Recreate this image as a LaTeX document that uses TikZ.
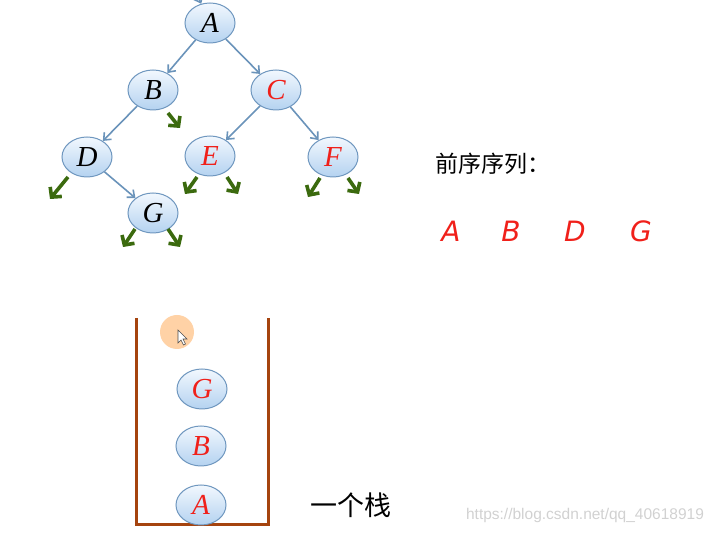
\documentclass[tikz,border=0pt]{standalone}
\usepackage{fontspec}
\setmainfont{Liberation Serif}
\newfontfamily\cjk{Noto Sans CJK SC}
\newfontfamily\seqfont{DejaVu Sans}
\newfontfamily\markfont{Liberation Sans}
\usetikzlibrary{shapes.geometric,arrows.meta,calc}
\definecolor{edgeblue}{HTML}{6A93BA}
\definecolor{ringblue}{HTML}{6F97BF}
\definecolor{balltop}{HTML}{F2F8FE}
\definecolor{ballbottom}{HTML}{B4D2F0}
\definecolor{nilgreen}{HTML}{3B6A0E}
\definecolor{stackbrown}{HTML}{A5440F}
\definecolor{seqred}{HTML}{F0201A}
\begin{document}
\begin{tikzpicture}[x=1pt,y=-1pt,
    every node/.style={font=\fontsize{29}{29}\selectfont\itshape},
    treenode/.style={ellipse,draw=ringblue,line width=1pt,top color=balltop,bottom color=ballbottom,
      minimum width=50pt,minimum height=40pt,inner sep=0pt},
    edge/.style={-{Straight Barb[length=6pt,width=10pt]},edgeblue,line width=1.6pt},
    nil/.style={-{Straight Barb[length=7pt,width=15pt]},nilgreen,line width=3.6pt},
    seq/.style={font=\seqfont\fontsize{28}{28}\selectfont\itshape,text=seqred},
    wall/.style={stackbrown,line width=3pt}]
    \useasboundingbox (0,0) rectangle (716,534);
    % the tree
    \node[treenode] (A) at (210,23) {A};
    \node[treenode] (B) at (153,90) {B};
    \node[treenode,text=seqred] (C) at (276,90) {C};
    \node[treenode] (D) at (87,157) {D};
    \node[treenode,text=seqred] (E) at (210,156) {E};
    \node[treenode,text=seqred] (F) at (333,157) {F};
    \node[treenode] (G) at (153,213) {G};
    \coordinate (root) at (194,-12);
    \draw[edge] (root) -- (A);
    \draw[edge] (A) -- (B);
    \draw[edge] (A) -- (C);
    \draw[edge] (B) -- (D);
    \draw[edge] (C) -- (E);
    \draw[edge] (C) -- (F);
    \draw[edge] (D) -- (G);
    % empty children
    \draw[nil] ($(B)+(15,23)$) -- ++(12,15);
    \draw[nil] ($(D)+(-19,20)$) -- ++(-18,22);
    \draw[nil] ($(E)+(-13,21)$) -- ++(-12,17);
    \draw[nil] ($(E)+(17,21)$) -- ++(11,17);
    \draw[nil] ($(F)+(-13,21)$) -- ++(-12,19);
    \draw[nil] ($(F)+(15,21)$) -- ++(11,16);
    \draw[nil] ($(G)+(-18,16)$) -- ++(-12,18);
    \draw[nil] ($(G)+(15,16)$) -- ++(12,18);
    % preorder so far
    \node[font=\cjk\fontsize{23}{23}\selectfont] (title) at (493,164) {前序序列：};
    \node[seq] (s1) at (451,231) {A};
    \node[seq] (s2) at (511,231) {B};
    \node[seq] (s3) at (575,231) {D};
    \node[seq] (s4) at (641,231) {G};
    % the stack
    \draw[wall] (136,318) -- (136,525) -- (268,525) -- (268,318);
    \node[treenode,text=seqred] (kA) at (201,505) {A};
    \node[treenode,text=seqred] (kB) at (201,446) {B};
    \node[treenode,text=seqred] (kG) at (202,389) {G};
    \node[font=\cjk\fontsize{27}{27}\selectfont] (label) at (351,505) {一个栈};
    % pointer
    \fill[orange!35] (177,332) circle (17);
    \draw[black!70,fill=white,line width=0.6pt] (178,330) -- (178,343) -- (181,340) -- (183.5,345) -- (185.5,344) -- (183,339) -- (187,339) -- cycle;
    \node[font=\markfont\fontsize{15.5}{15.5}\selectfont,text=black!18] (mark) at (585,515) {https://blog.csdn.net/qq\_40618919};
\end{tikzpicture}
\end{document}
